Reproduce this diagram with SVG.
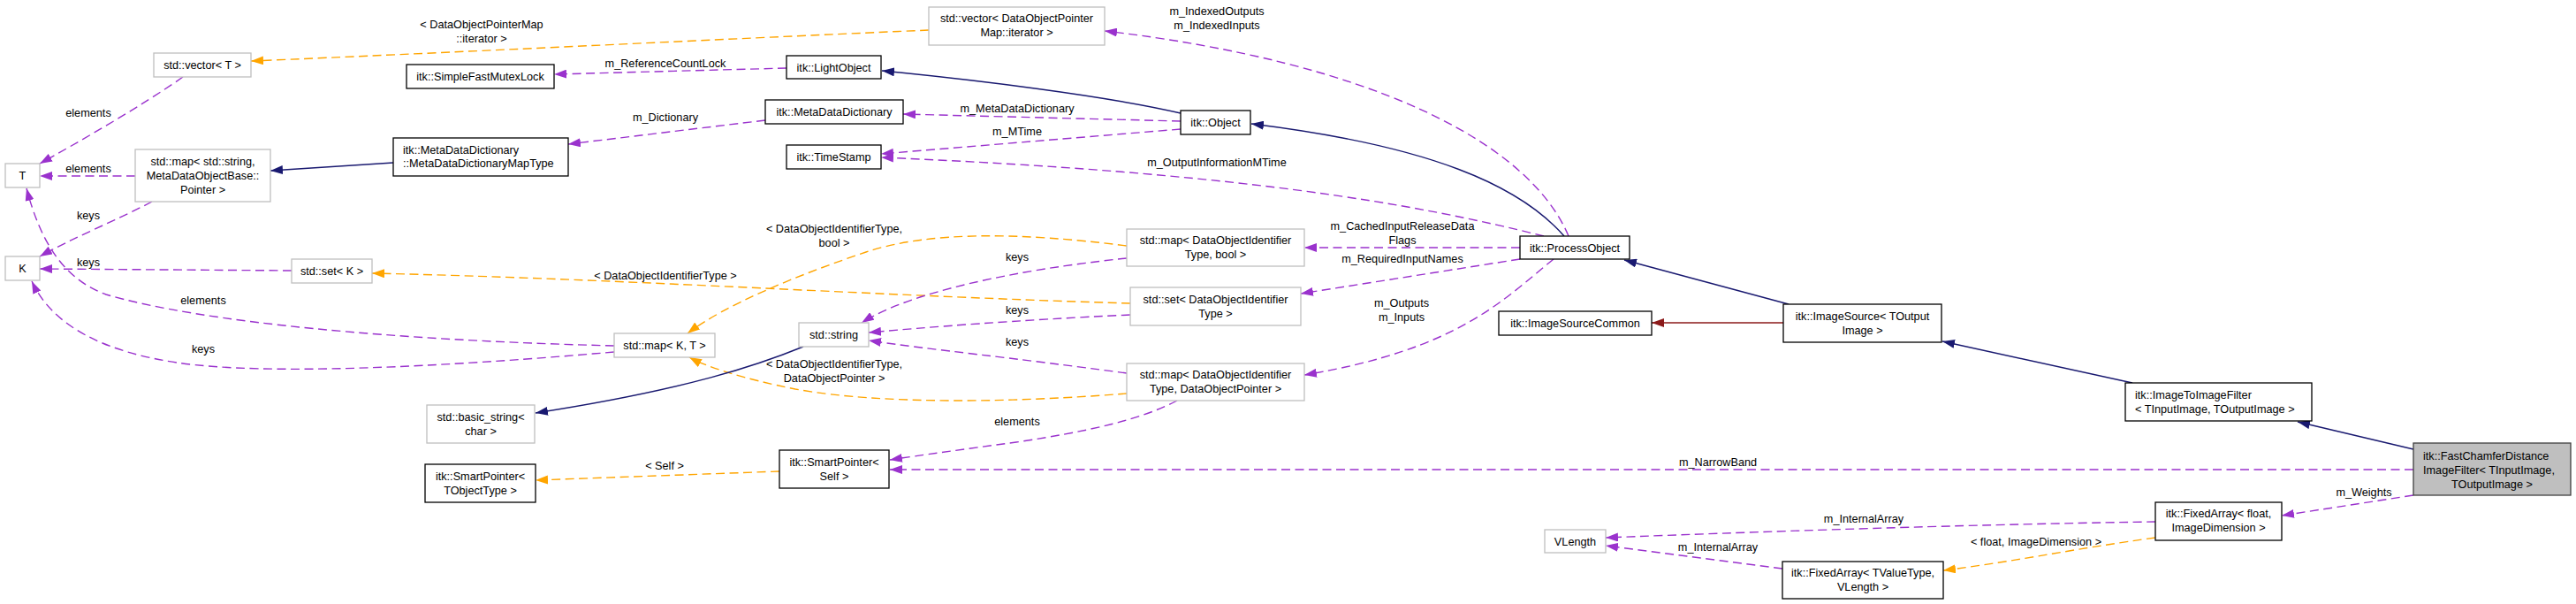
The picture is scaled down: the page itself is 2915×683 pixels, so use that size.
<svg xmlns="http://www.w3.org/2000/svg" width="2915" height="683" viewBox="0 0 2915 683">
<style>
text{font-family:"Liberation Sans",Arial,sans-serif;font-size:12.7px;fill:#000}
.m{text-anchor:middle}
.s{text-anchor:start}
.n rect{fill:#fff;stroke:#000;stroke-width:1.3}
.g rect{fill:#fff;stroke:#bfbfbf;stroke-width:1.3}
.f rect{fill:#bfbfbf;stroke:#404040;stroke-width:1.3}
#edges path{fill:none;stroke-width:1.4}
.p{stroke:#9a32cd;stroke-dasharray:10,5.5}
.o{stroke:#ffa500;stroke-dasharray:10,5.5}
.b{stroke:#191970}
.r{stroke:#8b1a1a}
</style>
<defs>
<marker id="ap" viewBox="0 0 14 10" refX="14" refY="5" markerWidth="14" markerHeight="10" markerUnits="userSpaceOnUse" orient="auto"><path d="M0,0L14,5L0,10z" fill="#9a32cd"/></marker>
<marker id="ao" viewBox="0 0 14 10" refX="14" refY="5" markerWidth="14" markerHeight="10" markerUnits="userSpaceOnUse" orient="auto"><path d="M0,0L14,5L0,10z" fill="#ffa500"/></marker>
<marker id="ab" viewBox="0 0 14 10" refX="14" refY="5" markerWidth="14" markerHeight="10" markerUnits="userSpaceOnUse" orient="auto"><path d="M0,0L14,5L0,10z" fill="#191970"/></marker>
<marker id="ar" viewBox="0 0 14 10" refX="14" refY="5" markerWidth="14" markerHeight="10" markerUnits="userSpaceOnUse" orient="auto"><path d="M0,0L14,5L0,10z" fill="#8b1a1a"/></marker>
</defs>
<rect width="2915" height="683" fill="#fff"/>
<g id="edges">
<path class="o" marker-end="url(#ao)" d="M1051,34C800,45 500,60 284,69"/>
<text class="m" x="545" y="32">&lt; DataObjectPointerMap</text>
<text class="m" x="545" y="48">::iterator &gt;</text>
<path class="p" marker-end="url(#ap)" d="M207,87C160,120 90,160 45,185"/>
<text class="m" x="100" y="132">elements</text>
<path class="p" marker-end="url(#ap)" d="M153,199L45,199"/>
<text class="m" x="100" y="195">elements</text>
<path class="p" marker-end="url(#ap)" d="M172,228C130,250 80,270 45,290"/>
<text class="m" x="100" y="248">keys</text>
<path class="b" marker-end="url(#ab)" d="M445,184L306,193"/>
<path class="p" marker-end="url(#ap)" d="M330,306L45,304"/>
<text class="m" x="100" y="301">keys</text>
<path class="p" marker-end="url(#ap)" d="M695,391C450,385 230,365 120,333C70,315 45,270 30,213"/>
<text class="m" x="230" y="344">elements</text>
<path class="p" marker-end="url(#ap)" d="M695,398C500,415 300,425 200,410C120,398 60,370 36,318"/>
<text class="m" x="230" y="399">keys</text>
<path class="o" marker-end="url(#ao)" d="M1275,278C1150,262 1050,262 980,285C900,312 820,345 778,377"/>
<text class="m" x="944" y="263">&lt; DataObjectIdentifierType,</text>
<text class="m" x="944" y="279">bool &gt;</text>
<path class="o" marker-end="url(#ao)" d="M1279,343C1000,335 700,315 421,309"/>
<text class="m" x="753" y="316">&lt; DataObjectIdentifierType &gt;</text>
<path class="o" marker-end="url(#ao)" d="M1275,445C1150,455 1000,458 900,440C840,428 800,415 780,404"/>
<text class="m" x="944" y="416">&lt; DataObjectIdentifierType,</text>
<text class="m" x="944" y="432">DataObjectPointer &gt;</text>
<path class="p" marker-end="url(#ap)" d="M1275,292C1150,305 1030,330 975,365"/>
<text class="m" x="1151" y="295">keys</text>
<path class="p" marker-end="url(#ap)" d="M1279,356C1150,362 1050,370 983,376"/>
<text class="m" x="1151" y="355">keys</text>
<path class="p" marker-end="url(#ap)" d="M1275,422C1150,405 1050,395 983,385"/>
<text class="m" x="1151" y="391">keys</text>
<path class="p" marker-end="url(#ap)" d="M1332,453C1290,475 1230,488 1150,500C1090,508 1040,515 1007,520"/>
<text class="m" x="1151" y="481">elements</text>
<path class="p" marker-end="url(#ap)" d="M2731,531L1007,531"/>
<text class="m" x="1944" y="527">m_NarrowBand</text>
<path class="o" marker-end="url(#ao)" d="M882,533L606,543"/>
<text class="m" x="752" y="531">&lt; Self &gt;</text>
<path class="b" marker-end="url(#ab)" d="M909,392C860,412 780,440 606,467"/>
<path class="p" marker-end="url(#ap)" d="M890,77L627,84"/>
<text class="m" x="753" y="76">m_ReferenceCountLock</text>
<path class="p" marker-end="url(#ap)" d="M866,136L643,163"/>
<text class="m" x="753" y="137">m_Dictionary</text>
<path class="b" marker-end="url(#ab)" d="M1336,128C1250,108 1100,90 998,80"/>
<path class="p" marker-end="url(#ap)" d="M1336,137L1022,129"/>
<text class="m" x="1151" y="127">m_MetaDataDictionary</text>
<path class="p" marker-end="url(#ap)" d="M1336,146L997,174"/>
<text class="m" x="1151" y="153">m_MTime</text>
<path class="p" marker-end="url(#ap)" d="M1747,267C1600,230 1400,195 997,178"/>
<text class="m" x="1377" y="188">m_OutputInformationMTime</text>
<path class="b" marker-end="url(#ab)" d="M1770,267C1720,210 1620,165 1416,140"/>
<path class="p" marker-end="url(#ap)" d="M1775,267C1730,160 1550,70 1250,35"/>
<text class="m" x="1377" y="17">m_IndexedOutputs</text>
<text class="m" x="1377" y="33">m_IndexedInputs</text>
<path class="p" marker-end="url(#ap)" d="M1720,280L1476,280"/>
<text class="m" x="1587" y="260">m_CachedInputReleaseData</text>
<text class="m" x="1587" y="276">Flags</text>
<path class="p" marker-end="url(#ap)" d="M1720,293L1472,332"/>
<text class="m" x="1587" y="297">m_RequiredInputNames</text>
<path class="p" marker-end="url(#ap)" d="M1758,293C1700,340 1650,395 1476,424"/>
<text class="m" x="1586" y="347">m_Outputs</text>
<text class="m" x="1586" y="363">m_Inputs</text>
<path class="b" marker-end="url(#ab)" d="M2024,344L1838,294"/>
<path class="r" marker-end="url(#ar)" d="M2018,365L1869,365"/>
<path class="b" marker-end="url(#ab)" d="M2413,433L2198,386"/>
<path class="b" marker-end="url(#ab)" d="M2731,508L2600,477"/>
<path class="p" marker-end="url(#ap)" d="M2731,560L2582,583"/>
<text class="m" x="2675" y="561">m_Weights</text>
<path class="p" marker-end="url(#ap)" d="M2439,590C2300,592 2100,597 1817,608"/>
<text class="m" x="2109" y="591">m_InternalArray</text>
<path class="p" marker-end="url(#ap)" d="M2017,643L1817,617"/>
<text class="m" x="1944" y="623">m_InternalArray</text>
<path class="o" marker-end="url(#ao)" d="M2439,608C2350,620 2280,635 2199,645"/>
<text class="m" x="2304" y="617">&lt; float, ImageDimension &gt;</text>
</g>
<g id="vecT" class="g"><rect x="174" y="60" width="110" height="27"/><text class="m" x="229" y="78">std::vector&lt; T &gt;</text></g>
<g id="T" class="g"><rect x="6" y="185" width="39" height="27"/><text class="m" x="25.5" y="203">T</text></g>
<g id="K" class="g"><rect x="6" y="290" width="39" height="27"/><text class="m" x="25.5" y="308">K</text></g>
<g id="mapStr" class="g"><rect x="153" y="169" width="153" height="59"/><text class="m" x="229.5" y="187">std::map&lt; std::string,</text><text class="m" x="229.5" y="203">MetaDataObjectBase::</text><text class="m" x="229.5" y="219">Pointer &gt;</text></g>
<g id="mddMap" class="n"><rect x="445" y="156" width="198" height="43"/><text class="s" x="456" y="174">itk::MetaDataDictionary</text><text class="s" x="456" y="189">::MetaDataDictionaryMapType</text></g>
<g id="mutex" class="n"><rect x="460" y="73" width="167" height="27"/><text class="m" x="543.5" y="91">itk::SimpleFastMutexLock</text></g>
<g id="setK" class="g"><rect x="330" y="293" width="91" height="27"/><text class="m" x="375.5" y="311">std::set&lt; K &gt;</text></g>
<g id="vecDOP" class="g"><rect x="1051" y="8" width="199" height="43"/><text class="m" x="1150.5" y="25">std::vector&lt; DataObjectPointer</text><text class="m" x="1150.5" y="41">Map::iterator &gt;</text></g>
<g id="lightObject" class="n"><rect x="890" y="63" width="107" height="26"/><text class="m" x="943.5" y="80.5">itk::LightObject</text></g>
<g id="mdd" class="n"><rect x="866" y="113" width="156" height="27"/><text class="m" x="944" y="131">itk::MetaDataDictionary</text></g>
<g id="timeStamp" class="n"><rect x="890" y="164" width="107" height="27"/><text class="m" x="943.5" y="182">itk::TimeStamp</text></g>
<g id="object" class="n"><rect x="1336" y="125" width="79" height="27"/><text class="m" x="1375.5" y="143">itk::Object</text></g>
<g id="processObject" class="n"><rect x="1720" y="267" width="124" height="26"/><text class="m" x="1782" y="284.5">itk::ProcessObject</text></g>
<g id="mapBool" class="g"><rect x="1275" y="259" width="201" height="42"/><text class="m" x="1375.5" y="275.5">std::map&lt; DataObjectIdentifier</text><text class="m" x="1375.5" y="291.5">Type, bool &gt;</text></g>
<g id="setDOIT" class="g"><rect x="1279" y="325" width="193" height="43"/><text class="m" x="1375.5" y="343">std::set&lt; DataObjectIdentifier</text><text class="m" x="1375.5" y="358.5">Type &gt;</text></g>
<g id="mapDOP" class="g"><rect x="1275" y="411" width="201" height="42"/><text class="m" x="1375.5" y="427.5">std::map&lt; DataObjectIdentifier</text><text class="m" x="1375.5" y="443.5">Type, DataObjectPointer &gt;</text></g>
<g id="mapKT" class="g"><rect x="695" y="377" width="114" height="27"/><text class="m" x="752" y="395">std::map&lt; K, T &gt;</text></g>
<g id="string" class="g"><rect x="904" y="365" width="79" height="27"/><text class="m" x="943.5" y="383">std::string</text></g>
<g id="basicString" class="g"><rect x="483" y="458" width="122" height="43"/><text class="m" x="544" y="476">std::basic_string&lt;</text><text class="m" x="544" y="492">char &gt;</text></g>
<g id="spTObj" class="n"><rect x="481" y="525" width="125" height="43"/><text class="m" x="543.5" y="543">itk::SmartPointer&lt;</text><text class="m" x="543.5" y="559">TObjectType &gt;</text></g>
<g id="spSelf" class="n"><rect x="882" y="509" width="124" height="43"/><text class="m" x="944" y="527">itk::SmartPointer&lt;</text><text class="m" x="944" y="543">Self &gt;</text></g>
<g id="imageSourceCommon" class="n"><rect x="1696" y="352" width="173" height="27"/><text class="m" x="1782.5" y="370">itk::ImageSourceCommon</text></g>
<g id="imageSource" class="n"><rect x="2018" y="344" width="179" height="43"/><text class="m" x="2107.5" y="361.5">itk::ImageSource&lt; TOutput</text><text class="m" x="2107.5" y="377.5">Image &gt;</text></g>
<g id="imageToImageFilter" class="n"><rect x="2405" y="433" width="211" height="43"/><text class="s" x="2416" y="450.5">itk::ImageToImageFilter</text><text class="s" x="2416" y="466.5">&lt; TInputImage, TOutputImage &gt;</text></g>
<g id="fastChamfer" class="f"><rect x="2731" y="501" width="178" height="59"/><text class="s" x="2742" y="519.5">itk::FastChamferDistance</text><text class="s" x="2742" y="535.5">ImageFilter&lt; TInputImage,</text><text class="m" x="2820" y="551.5">TOutputImage &gt;</text></g>
<g id="fixedArrayFloat" class="n"><rect x="2439" y="568" width="143" height="43"/><text class="m" x="2510.5" y="585">itk::FixedArray&lt; float,</text><text class="m" x="2510.5" y="601">ImageDimension &gt;</text></g>
<g id="vlength" class="g"><rect x="1748" y="599" width="69" height="26"/><text class="m" x="1782.5" y="616.5">VLength</text></g>
<g id="fixedArrayTV" class="n"><rect x="2017" y="635" width="182" height="42"/><text class="m" x="2108" y="652">itk::FixedArray&lt; TValueType,</text><text class="m" x="2108" y="667.5">VLength &gt;</text></g>
</svg>
